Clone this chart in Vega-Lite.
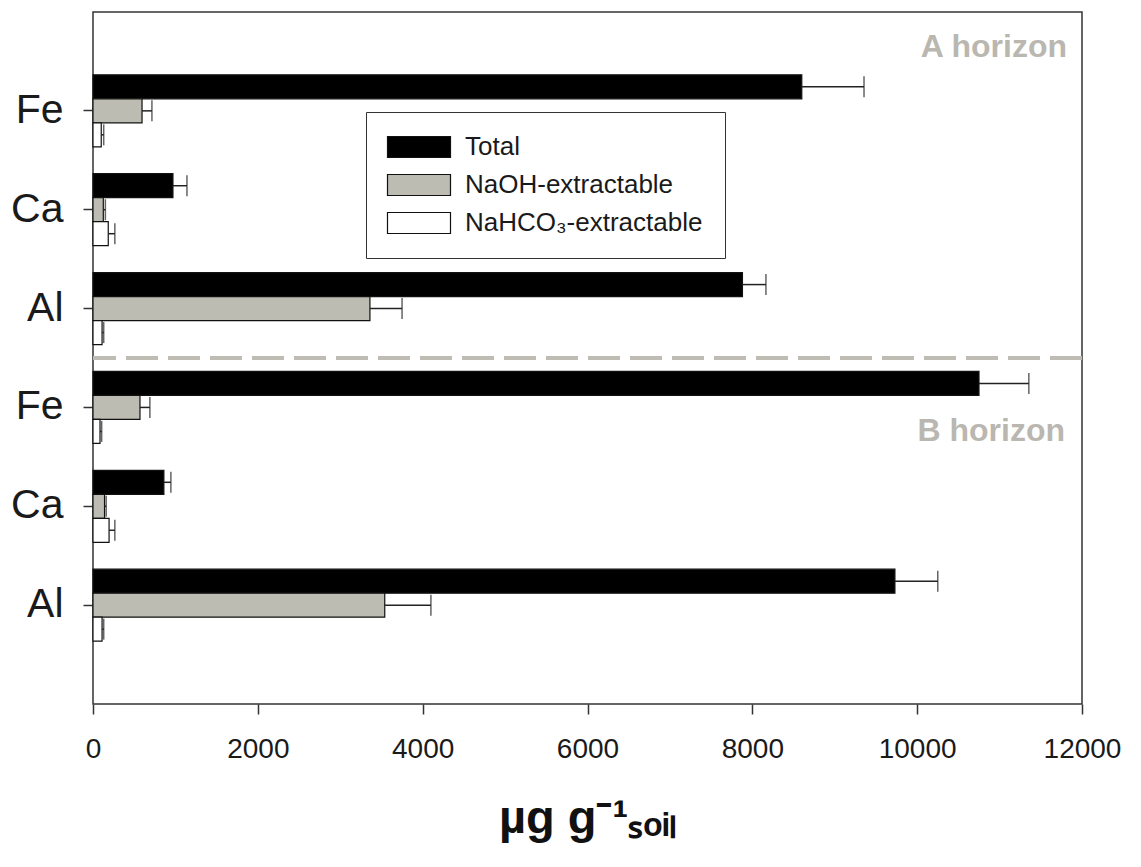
{
  "$schema": "https://vega.github.io/schema/vega-lite/v6.json",
  "width": 989,
  "height": 692,
  "autosize": {"type": "none"},
  "padding": {"left": 93, "top": 12, "right": 59, "bottom": 163},
  "background": "white",
  "config": {
    "font": "Liberation Sans",
    "view": {"stroke": "#333333", "strokeWidth": 1.5},
    "axis": {"grid": false, "domain": false, "tickColor": "#333333", "tickWidth": 1.5, "labelColor": "#1a1a1a", "titleColor": "#111111"}
  },
  "datasets": {
    "metals": [
      {"cell": "A Fe", "fraction": "Total", "value": 8600, "upper": 9355},
      {"cell": "A Fe", "fraction": "NaOH-extractable", "value": 595, "upper": 715},
      {"cell": "A Fe", "fraction": "NaHCO₃-extractable", "value": 100, "upper": 130},
      {"cell": "A Ca", "fraction": "Total", "value": 970, "upper": 1140},
      {"cell": "A Ca", "fraction": "NaOH-extractable", "value": 125, "upper": 150},
      {"cell": "A Ca", "fraction": "NaHCO₃-extractable", "value": 185, "upper": 265},
      {"cell": "A Al", "fraction": "Total", "value": 7880, "upper": 8165},
      {"cell": "A Al", "fraction": "NaOH-extractable", "value": 3360, "upper": 3750},
      {"cell": "A Al", "fraction": "NaHCO₃-extractable", "value": 110, "upper": 130},
      {"cell": "B Fe", "fraction": "Total", "value": 10750, "upper": 11355},
      {"cell": "B Fe", "fraction": "NaOH-extractable", "value": 570, "upper": 690},
      {"cell": "B Fe", "fraction": "NaHCO₃-extractable", "value": 85, "upper": 105},
      {"cell": "B Ca", "fraction": "Total", "value": 860, "upper": 945},
      {"cell": "B Ca", "fraction": "NaOH-extractable", "value": 140, "upper": 160},
      {"cell": "B Ca", "fraction": "NaHCO₃-extractable", "value": 195, "upper": 265},
      {"cell": "B Al", "fraction": "Total", "value": 9730, "upper": 10250},
      {"cell": "B Al", "fraction": "NaOH-extractable", "value": 3540, "upper": 4100},
      {"cell": "B Al", "fraction": "NaHCO₃-extractable", "value": 110, "upper": 130}
    ]
  },
  "layer": [
    {
      "data": {"name": "metals"},
      "mark": {"type": "bar", "stroke": "#111111", "strokeWidth": 1.2},
      "encoding": {
        "y": {
          "field": "cell", "type": "nominal",
          "sort": ["A Fe", "A Ca", "A Al", "B Fe", "B Ca", "B Al"],
          "scale": {"paddingInner": 0, "paddingOuter": 0.5},
          "axis": {"title": null, "labelExpr": "split(datum.label, ' ')[1]", "labelFontSize": 41, "tickSize": 10, "labelPadding": 20}
        },
        "yOffset": {
          "field": "fraction", "type": "nominal",
          "sort": ["Total", "NaOH-extractable", "NaHCO₃-extractable"],
          "scale": {"paddingInner": 0, "paddingOuter": 0.56}
        },
        "x": {
          "field": "value", "type": "quantitative",
          "scale": {"domain": [0, 12000], "nice": false},
          "axis": {
            "values": [0, 2000, 4000, 6000, 8000, 10000, 12000], "format": "d",
            "labelFlush": false, "labelOverlap": false,
            "tickSize": 10, "labelFontSize": 28, "labelPadding": 21,
            "title": "µg g⁻¹ₛₒᵢₗ", "titleFontSize": 47, "titleFontWeight": "bold", "titlePadding": 32
          }
        },
        "fill": {
          "field": "fraction", "type": "nominal",
          "sort": ["Total", "NaOH-extractable", "NaHCO₃-extractable"],
          "scale": {"domain": ["Total", "NaOH-extractable", "NaHCO₃-extractable"], "range": ["#000000", "#bdbcb2", "#ffffff"]},
          "legend": {
            "orient": "none", "legendX": 273, "legendY": 100, "title": null,
            "padding": 22, "strokeColor": "#333333", "fillColor": "white",
            "labelFontSize": 26, "labelColor": "#1a1a1a", "labelLimit": 500,
            "symbolType": "M-3,-1H3V1H-3Z", "symbolSize": 441,
            "symbolOffset": 18, "labelOffset": 33, "rowPadding": 12,
            "symbolStrokeColor": "#111111", "symbolStrokeWidth": 1.2
          }
        }
      }
    },
    {
      "data": {"name": "metals"},
      "mark": {"type": "rule", "color": "#222222", "strokeWidth": 1.5},
      "encoding": {
        "y": {"field": "cell", "type": "nominal", "sort": ["A Fe", "A Ca", "A Al", "B Fe", "B Ca", "B Al"]},
        "yOffset": {"field": "fraction", "type": "nominal", "sort": ["Total", "NaOH-extractable", "NaHCO₃-extractable"]},
        "x": {"field": "value", "type": "quantitative"},
        "x2": {"field": "upper"}
      }
    },
    {
      "data": {"name": "metals"},
      "mark": {"type": "tick", "color": "#222222", "thickness": 1.5, "size": 21, "orient": "vertical"},
      "encoding": {
        "y": {"field": "cell", "type": "nominal", "sort": ["A Fe", "A Ca", "A Al", "B Fe", "B Ca", "B Al"]},
        "yOffset": {"field": "fraction", "type": "nominal", "sort": ["Total", "NaOH-extractable", "NaHCO₃-extractable"]},
        "x": {"field": "upper", "type": "quantitative"}
      }
    },
    {
      "data": {"values": [{}]},
      "mark": {"type": "rule", "color": "#bfbcb4", "strokeWidth": 4, "strokeDash": [32, 10]},
      "encoding": {
        "y": {"datum": "B Fe", "type": "nominal", "bandPosition": 0}
      }
    },
    {
      "data": {"values": [{}]},
      "mark": {"type": "text", "text": "A horizon", "align": "right", "baseline": "middle", "fontSize": 32, "fontWeight": "bold", "color": "#bab7b0", "dx": -15, "dy": -64},
      "encoding": {
        "x": {"datum": 12000, "type": "quantitative"},
        "y": {"datum": "A Fe", "type": "nominal"}
      }
    },
    {
      "data": {"values": [{}]},
      "mark": {"type": "text", "text": "B horizon", "align": "right", "baseline": "middle", "fontSize": 32, "fontWeight": "bold", "color": "#bab7b0", "dx": -17, "dy": 24},
      "encoding": {
        "x": {"datum": 12000, "type": "quantitative"},
        "y": {"datum": "B Fe", "type": "nominal"}
      }
    }
  ]
}
